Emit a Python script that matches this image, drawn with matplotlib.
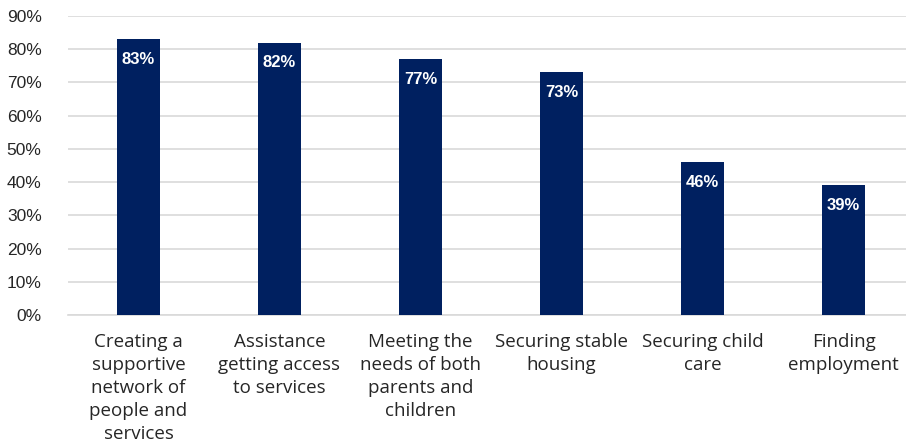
import matplotlib.pyplot as plt
import numpy as np

categories = [
    "Creating a\nsupportive\nnetwork of\npeople and\nservices",
    "Assistance\ngetting access\nto services",
    "Meeting the\nneeds of both\nparents and\nchildren",
    "Securing stable\nhousing",
    "Securing child\ncare",
    "Finding\nemployment",
]
values = [0.83, 0.82, 0.77, 0.73, 0.46, 0.39]
yticks = [0.0, 0.1, 0.2, 0.3, 0.4, 0.5, 0.6, 0.7, 0.8, 0.9]

bar_color = "#002060"
grid_color = "#d9d9d9"

fig = plt.figure(figsize=(9.06, 4.46), dpi=100)
ax = fig.add_axes([68 / 906, 1 - 315 / 446, 846 / 906, 299 / 446])

x = np.arange(len(categories))
bars = ax.bar(x, values, width=0.31, color=bar_color, zorder=3)

for xi, v in zip(x, values):
    ax.text(xi, v - 0.06, f"{v * 100:.0f}%", ha="center", va="center",
            color="white", fontsize=12, fontweight="bold",
            family="Liberation Sans", zorder=4)

ax.set_xlim(-0.5, len(categories) - 0.5)
ax.set_ylim(0, 0.9)
ax.set_yticks(yticks)
ax.set_yticklabels([f"{t * 100:.0f}%" for t in yticks],
                   family="Liberation Sans", fontsize=12.5, color="#262626")
ax.set_xticks(x)
ax.set_xticklabels(categories, family="Open Sans", fontsize=13.5,
                   color="#262626", linespacing=1.36)

ax.yaxis.grid(True, color=grid_color, linewidth=1.2, zorder=0)
ax.tick_params(axis="both", length=0)
ax.tick_params(axis="x", pad=13)
ax.tick_params(axis="y", pad=19)
for side in ["left", "right", "top"]:
    ax.spines[side].set_visible(False)
ax.spines["bottom"].set_color(grid_color)
ax.spines["bottom"].set_linewidth(1.2)

fig.savefig("out.png", dpi=100)
